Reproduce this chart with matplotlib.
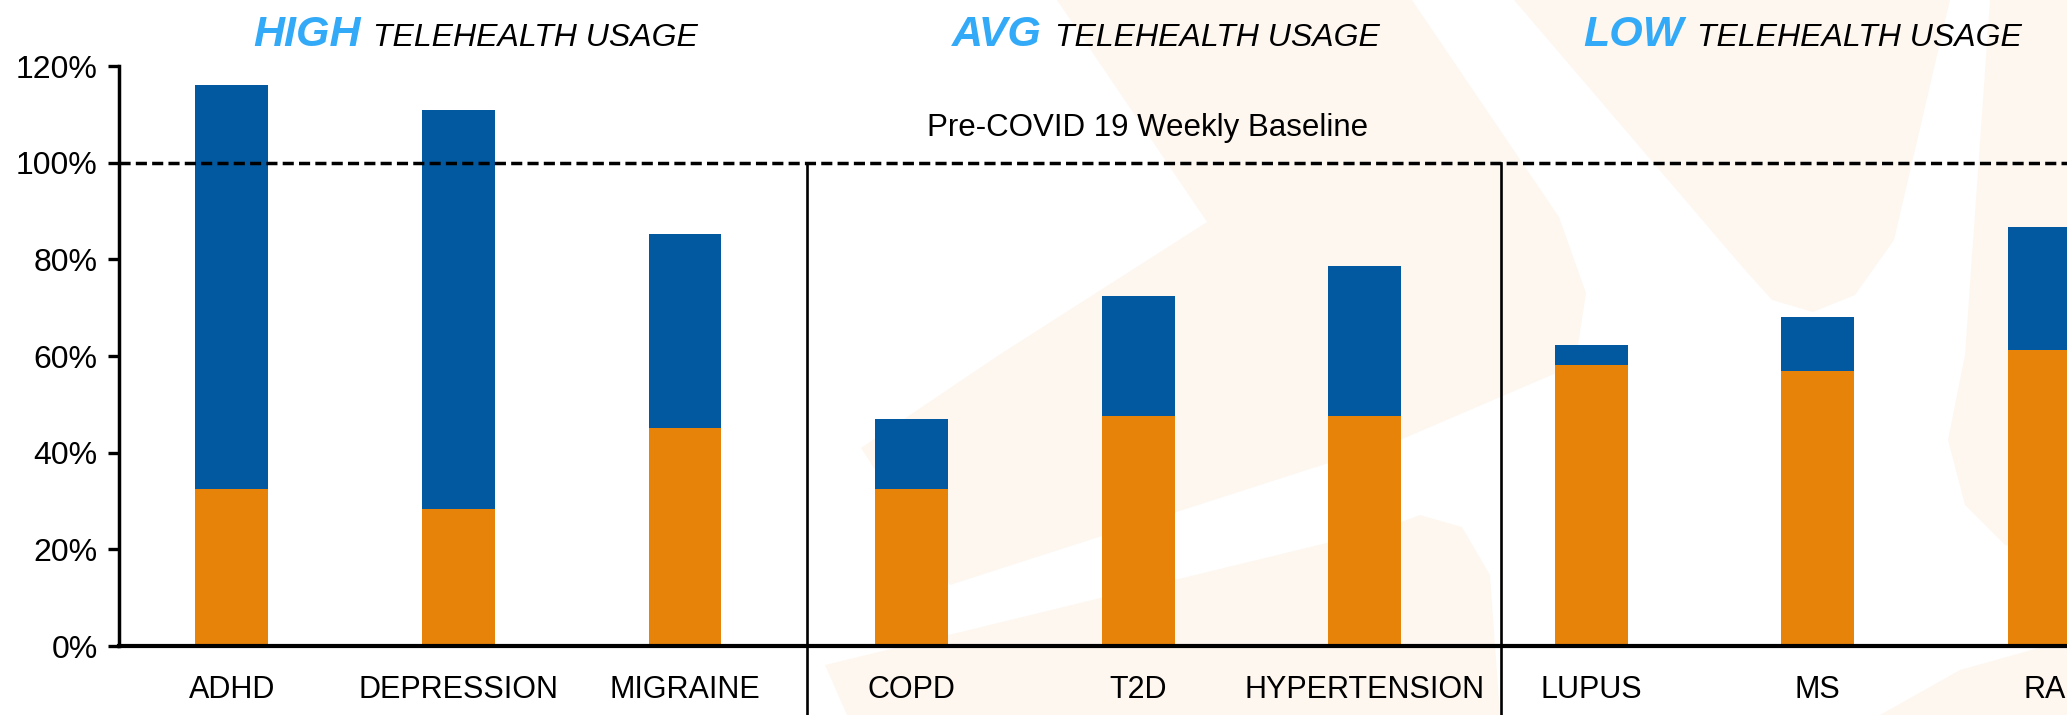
import matplotlib
matplotlib.use("Agg")
import matplotlib.pyplot as plt
from matplotlib.patches import Polygon
import numpy as np

plt.rcParams['font.family'] = ['Liberation Sans', 'DejaVu Sans']

categories = ["ADHD", "DEPRESSION", "MIGRAINE", "COPD", "T2D", "HYPERTENSION", "LUPUS", "MS", "RA"]
in_person = [0.325, 0.284, 0.451, 0.325, 0.475, 0.475, 0.582, 0.568, 0.613]
telehealth = [0.836, 0.825, 0.401, 0.145, 0.249, 0.312, 0.041, 0.112, 0.254]
y_ticks = [0, 0.2, 0.4, 0.6, 0.8, 1.0, 1.2]
y_tick_labels = ["0%", "20%", "40%", "60%", "80%", "100%", "120%"]
group_labels = ["HIGH", "AVG", "LOW"]
group_suffix = "TELEHEALTH USAGE"
baseline_value = 1.0
baseline_label = "Pre-COVID 19 Weekly Baseline"
separators = [2.54, 5.6]

ORANGE = "#E8830A"
BLUE = "#02599F"
LIGHTBLUE = "#33AAF7"
WATERMARK = "#FEF7F0"

W, H = 2067, 715
fig = plt.figure(figsize=(W / 100, H / 100), dpi=100)

# faint background watermark shapes (pixel coords, y from top)
shapes = [
    [(1057, 0), (1412, 0), (1559, 217), (1586, 293), (1575, 365), (1400, 440),
     (950, 585), (861, 448), (999, 355), (1207, 222)],
    [(1514, 0), (1950, 0), (1894, 240), (1855, 295), (1813, 312), (1772, 300), (1745, 270)],
    [(1990, 0), (2067, 0), (2067, 560), (2005, 545), (1965, 505), (1948, 440), (1965, 355)],
    [(847, 715), (825, 665), (1380, 530), (1420, 515), (1462, 527), (1490, 575), (1500, 715)],
    [(1880, 715), (1960, 670), (2067, 640), (2067, 715)],
]
for pts in shapes:
    fig.patches.append(Polygon([(px / W, 1 - py / H) for px, py in pts], closed=True,
                               transform=fig.transFigure, facecolor=WATERMARK,
                               edgecolor='none', zorder=-5))

left_px, bottom_px, top_px = 118.6, 646, 66
ax = fig.add_axes([left_px / W, 1 - bottom_px / H, 1 - left_px / W, (bottom_px - top_px) / H])
ax.set_zorder(2)
ax.patch.set_alpha(0)

x = np.arange(len(categories))
ax.bar(x, in_person, width=0.322, color=ORANGE, label="In-person", zorder=2)
ax.bar(x, telehealth, width=0.322, bottom=in_person, color=BLUE, label="Telehealth", zorder=2)

ax.set_xlim(-0.5, 8.1)
ax.set_ylim(0, 1.2)
ax.set_yticks(y_ticks)
ax.set_yticklabels(y_tick_labels)
ax.set_xticks(x)
ax.set_xticklabels(categories)

ax.tick_params(axis='y', direction='out', length=8, width=2.4, pad=7, labelsize=23)
ax.tick_params(axis='x', length=0, pad=21, labelsize=22)

for s in ['top', 'right']:
    ax.spines[s].set_visible(False)
ax.spines['left'].set_linewidth(2.5)
ax.spines['bottom'].set_linewidth(3.0)
ax.spines['bottom'].set_zorder(3)

ax.axhline(baseline_value, color='black', lw=2.5, linestyle=(0, (3.2, 1.5)), zorder=3)
ax.text(4.04, 1.072, baseline_label, ha='center', va='center', fontsize=22.5)

for sx in separators:
    ax.plot([sx, sx], [baseline_value, -0.3], color='black', lw=1.9, clip_on=False, zorder=3)

# group headers
header_pos = [(253, 373), (952, 1055), (1583, 1697)]
for (x1, x2), g in zip(header_pos, group_labels):
    fig.text(x1 / W, 1 - 46 / H, g, color=LIGHTBLUE, fontsize=31, fontweight='bold',
             fontstyle='italic', ha='left', va='baseline', zorder=5)
    fig.text(x2 / W, 1 - 46 / H, group_suffix, color='black', fontsize=23,
             fontstyle='italic', ha='left', va='baseline', zorder=5)

fig.savefig("out.png", dpi=100)
